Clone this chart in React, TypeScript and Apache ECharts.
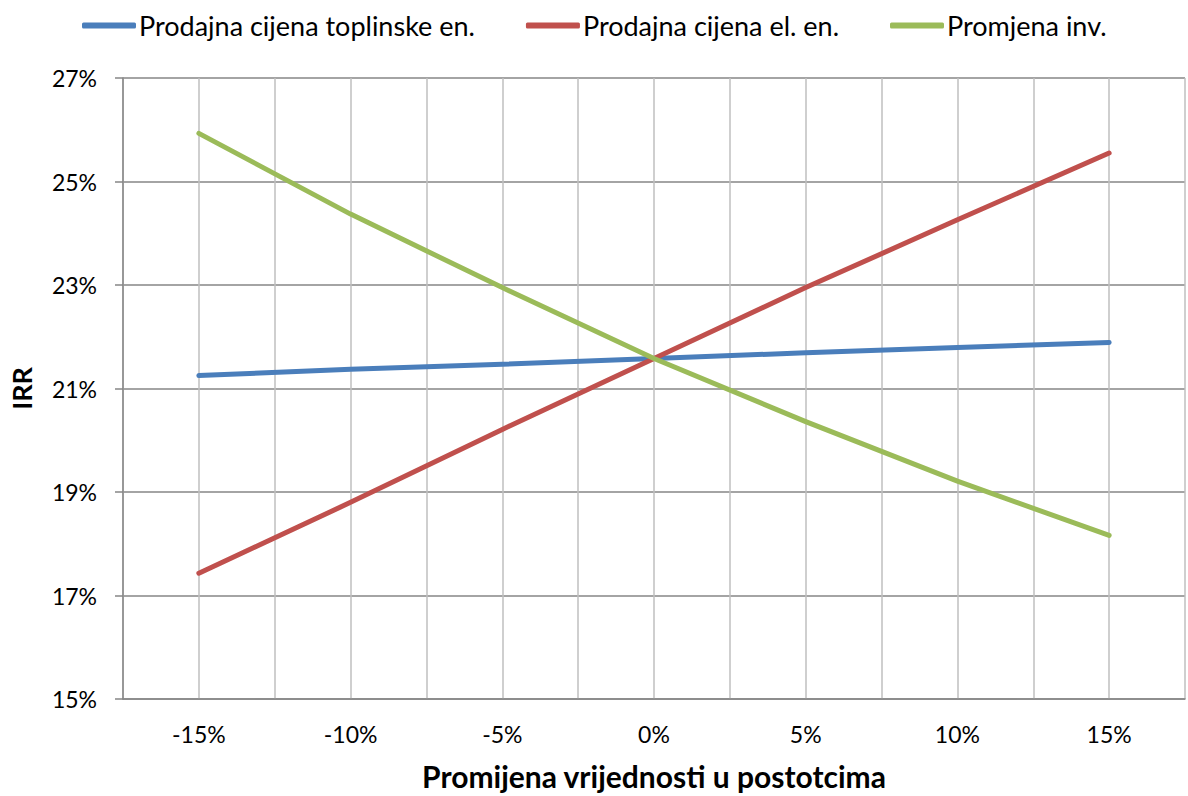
import React, { useEffect, useRef } from "react";
import * as echarts from "echarts";

const xValues = [-15, -10, -5, 0, 5, 10, 15];
const toplinska = [21.25, 21.37, 21.47, 21.58, 21.69, 21.79, 21.89];
const elektricna = [17.43, 18.8, 20.21, 21.58, 22.95, 24.26, 25.55];
const investicija = [25.93, 24.37, 22.95, 21.58, 20.36, 19.21, 18.16];
const seriesNames = ["Prodajna cijena toplinske en.", "Prodajna cijena el. en.", "Promjena inv."];
const colors = ["#4A7EBB", "#C0504D", "#9BBB59"];
const xTitle = "Promijena vrijednosti u postotcima";
const yTitle = "IRR";

const FONT = "Lato, 'Open Sans', sans-serif";

export default function App() {
  const ref = useRef<HTMLDivElement>(null);
  useEffect(() => {
    if (!ref.current) return;
    const chart = echarts.init(ref.current, undefined, { renderer: "svg" });
    const allData = [toplinska, elektricna, investicija];
    chart.setOption({
      animation: false,
      backgroundColor: "#ffffff",
      textStyle: { fontFamily: FONT },
      legend: {
        top: 7,
        left: 77,
        itemWidth: 54,
        itemHeight: 6,
        itemGap: 51,
        icon: "roundRect",
        textStyle: { fontSize: 27, color: "#000", fontFamily: FONT, padding: [0, 0, 0, -2] },
        data: seriesNames,
      },
      grid: { left: 120, right: 1, top: 78, bottom: 96, containLabel: false },
      xAxis: {
        type: "value",
        min: -17.5,
        max: 17.5,
        interval: 2.5,
        name: xTitle,
        nameLocation: "middle",
        nameGap: 62,
        nameTextStyle: { fontSize: 30, fontWeight: "bold", color: "#000", fontFamily: FONT },
        axisLine: { show: true, onZero: false, lineStyle: { color: "#868686", width: 1.5 } },
        axisTick: { show: false },
        axisLabel: {
          fontSize: 23,
          color: "#000",
          margin: 23,
          fontFamily: FONT,
          formatter: (v: number) => (Math.abs(v % 5) < 1e-9 && Math.abs(v) <= 15 ? `${v}%` : ""),
        },
        splitLine: { show: true, lineStyle: { color: "#BFBFBF", width: 1.5 } },
      },
      yAxis: {
        type: "value",
        min: 15,
        max: 27,
        interval: 2,
        name: yTitle,
        nameLocation: "middle",
        nameGap: 88,
        nameTextStyle: { fontSize: 27, fontWeight: "bold", color: "#000", fontFamily: FONT },
        axisLine: { show: true, onZero: false, lineStyle: { color: "#868686", width: 1.5 } },
        axisTick: { show: true, length: 8, lineStyle: { color: "#868686", width: 1.5 } },
        axisLabel: { fontSize: 23, color: "#000", margin: 26, fontFamily: FONT, formatter: (v: number) => `${v}%` },
        splitLine: { show: true, lineStyle: { color: "#868686", width: 1.5 } },
      },
      series: seriesNames.map((name, i) => ({
        name,
        type: "line",
        data: xValues.map((x, j) => [x, allData[i][j]]),
        symbol: "none",
        color: colors[i],
        lineStyle: { width: 5, color: colors[i], cap: "round", join: "round" },
        itemStyle: { color: colors[i] },
      })),
    });
    return () => chart.dispose();
  }, []);
  return <div ref={ref} style={{ position: "fixed", left: 0, top: 0, width: 1188, height: 796 }} />;
}
